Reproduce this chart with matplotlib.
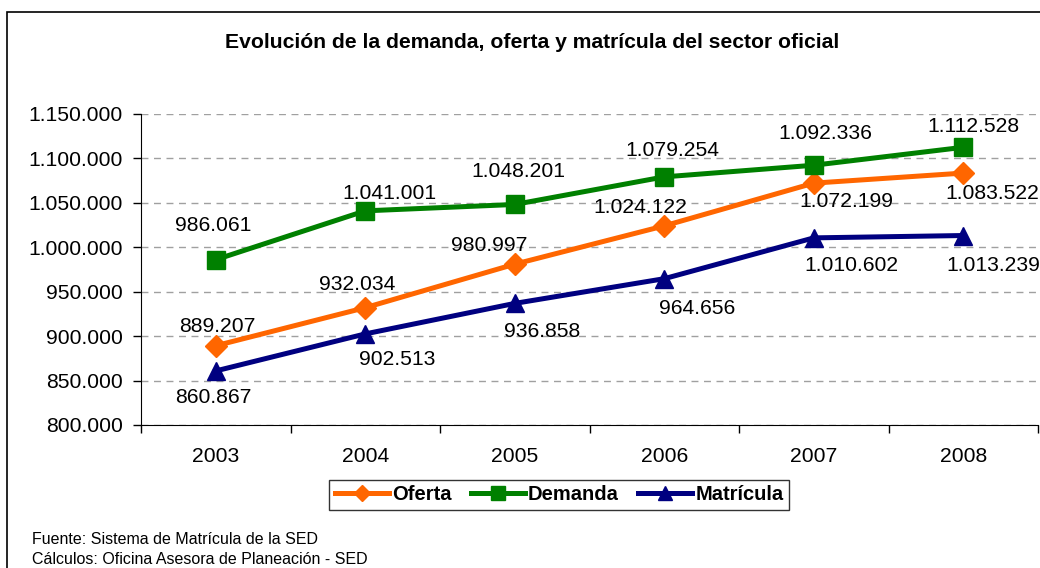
import matplotlib
matplotlib.use('Agg')
import matplotlib.pyplot as plt
from matplotlib.patches import Rectangle
from matplotlib.ticker import FuncFormatter

plt.rcParams['font.family'] = ['Liberation Sans', 'DejaVu Sans']

# data
years = ['2003', '2004', '2005', '2006', '2007', '2008']
oferta = [889207, 932034, 980997, 1024122, 1072199, 1083522]
demanda = [986061, 1041001, 1048201, 1079254, 1092336, 1112528]
matricula = [860867, 902513, 936858, 964656, 1010602, 1013239]

# label offsets (pixels) relative to each marker, like the hand-placed excel labels
off_oferta = [(2, 19), (-8, 23), (-26, 19), (-24, 18), (33, -18), (29, -20)]
off_demanda = [(-3, 34), (24, 17), (4, 33), (8, 26), (12, 32), (10, 21)]
off_matricula = [(-2, -27), (32, -26), (27, -28), (33, -30), (38, -28), (30, -30)]

def miles(v, pos=None):
    return f'{int(round(v)):,}'.replace(',', '.')

W, H = 1040, 568
fig = plt.figure(figsize=(W / 100, H / 100), dpi=100)
ax = fig.add_axes([141 / W, 1 - 425 / H, (1038 - 141) / W, (425 - 114) / H])

x = list(range(len(years)))
series = [
    ('Oferta', oferta, '#FF6600', 'D', 11, off_oferta),
    ('Demanda', demanda, '#008000', 's', 13, off_demanda),
    ('Matrícula', matricula, '#000080', '^', 13.5, off_matricula),
]
for name, vals, col, mk, ms, offs in series:
    ax.plot(x, vals, color=col, lw=3.6, marker=mk, markersize=ms,
            markeredgecolor=col, label=name, zorder=3)
    for xi, v, (dx, dy) in zip(x, vals, offs):
        ax.annotate(miles(v), (xi, v), xytext=(dx, dy), textcoords='offset pixels',
                    ha='center', va='center', fontsize=15.2, color='black', zorder=4)

ax.set_xlim(-0.5, len(years) - 0.5)
ax.set_ylim(800000, 1150000)
ax.set_yticks(range(800000, 1150001, 50000))
ax.yaxis.set_major_formatter(FuncFormatter(miles))
ax.set_xticks(x)
ax.set_xticklabels(years)
ax.set_xticks([i - 0.5 for i in range(len(years) + 1)], minor=True)

ax.tick_params(axis='y', direction='out', length=6, width=1, pad=7, labelsize=15.2)
ax.tick_params(axis='x', which='major', length=0, pad=16, labelsize=15.2)
ax.tick_params(axis='x', which='minor', direction='out', length=6, width=1)

ax.grid(axis='y', color='#A0A0A0', linestyle=(0, (5, 4)), lw=1)
ax.set_axisbelow(True)
for s in ['top', 'right']:
    ax.spines[s].set_visible(False)
ax.spines['left'].set_color('black')
ax.spines['bottom'].set_color('black')

fig.text(532 / W, 1 - 42 / H, 'Evolución de la demanda, oferta y matrícula del sector oficial',
         ha='center', va='center', fontsize=15.2, fontweight='bold')

leg = fig.legend(loc='center', bbox_to_anchor=(559 / W, 1 - 495 / H), ncol=3,
                 prop={'weight': 'bold', 'size': 14.5}, frameon=True, fancybox=False,
                 handlelength=2.7, handletextpad=0.15, columnspacing=0.95,
                 borderpad=0.25, markerscale=0.75)
leg.get_frame().set_edgecolor('black')
leg.get_frame().set_linewidth(1)

fig.text(32 / W, 1 - 540 / H, 'Fuente: Sistema de Matrícula de la SED',
         ha='left', va='center', fontsize=11.5)
fig.text(32 / W, 1 - 560 / H, 'Cálculos: Oficina Asesora de Planeación - SED',
         ha='left', va='center', fontsize=11.5)

# outer chart border (runs off the right and bottom edge)
fig.add_artist(Rectangle((7 / W, -0.1), 1.2, 1 - 12 / H + 0.1, transform=fig.transFigure,
                         fill=False, edgecolor='black', lw=1.2))

fig.savefig('out.png', dpi=100)
